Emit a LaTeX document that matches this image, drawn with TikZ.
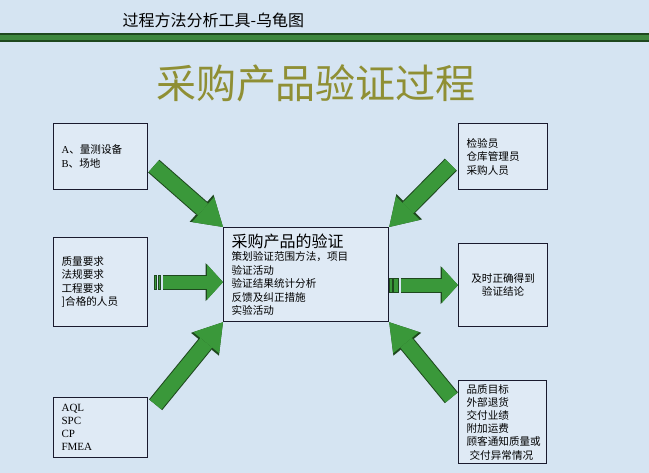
\documentclass[tikz,border=0pt]{standalone}
\usepackage{fontspec}
\setmainfont{Liberation Serif}
\newfontfamily\cjk{Noto Sans CJK SC}
\usepackage{tikz}
\usetikzlibrary{arrows.meta,calc}
\definecolor{paper}{RGB}{213,228,242}
\definecolor{boxfill}{RGB}{223,234,245}
\definecolor{boxline}{RGB}{26,26,46}
\definecolor{leaf}{RGB}{58,152,58}
\definecolor{leafdark}{RGB}{30,72,30}
\definecolor{band}{RGB}{62,135,62}
\definecolor{olive}{RGB}{143,143,52}
\tikzset{%
    infobox/.style={%
        draw=boxline, line width=1.2pt, fill=boxfill, anchor=north west,
        align=left, inner xsep=8pt, inner ysep=0pt,
        font=\cjk\fontsize{10.6}{13.5}\selectfont},
    fatarrow/.style={%
        preaction={draw=leafdark, line width=17pt,
            -{Triangle[width=36pt,length=28.5pt,line width=0pt]}},
        draw=leaf, line width=15pt, shorten <=1pt,
        -{Triangle[width=33.5pt,length=26.5pt,line width=0pt]}},
    flatarrow/.style={%
        preaction={draw=leafdark, line width=15pt,
            -{Triangle[width=38pt,length=17.5pt,line width=0pt]}},
        draw=leaf, line width=13pt, shorten <=1pt,
        -{Triangle[width=35.5pt,length=16pt,line width=0pt]}},
    stripe/.style={draw=leafdark, fill=leaf, line width=1pt}
}
\begin{document}
\begin{tikzpicture}[x=1pt,y=-1pt]
    \useasboundingbox (0,0) rectangle (649,473);
    \fill[paper] (0,0) rectangle (649,473);
    \node[anchor=west, font=\cjk\fontsize{16}{16}\selectfont] (header) at (119,20) {过程方法分析工具-乌龟图};
    \filldraw[draw=leafdark, fill=band, line width=2pt] (-2,34) rectangle (651,41);
    \node[text=olive, font=\cjk\fontsize{40}{40}\selectfont] (title) at (316,83) {采购产品验证过程};
    \node[infobox, text width=78pt, minimum height=66pt] (equip) at (53,123)
        {{\rmfamily A}、量测设备\\{\rmfamily B}、场地};
    \node[infobox, text width=78pt, minimum height=89pt] (quality) at (53,237)
        {质量要求\\法规要求\\工程要求\\]合格的人员};
    \node[infobox, text width=78pt, minimum height=60pt, font=\rmfamily\fontsize{11}{13}\selectfont] (tools) at (53,397)
        {AQL\\SPC\\CP\\FMEA};
    \node[infobox, text width=149pt, minimum height=94pt] (verify) at (223,227)
        {{\fontsize{16}{18}\selectfont 采购产品的验证}\\策划验证范围方法，项目\\验证活动\\验证结果统计分析\\反馈及纠正措施\\实验活动};
    \node[infobox, text width=73pt, minimum height=66pt] (staff) at (458,123)
        {检验员\\仓库管理员\\采购人员};
    \node[infobox, text width=73pt, minimum height=83pt, align=center] (result) at (458,243)
        {及时正确得到\\验证结论};
    \node[infobox, text width=72pt, minimum height=83pt, font=\cjk\fontsize{10.6}{13.2}\selectfont] (indicator) at (458,380)
        {品质目标\\外部退货\\交付业绩\\附加运费\\顾客通知质量或\\\hspace{3pt}交付异常情况};
    \coordinate (t1) at (153,165.5);
    \coordinate (t3) at (451.5,164);
    \coordinate (t5) at (155,405.5);
    \coordinate (t6) at (452,398.5);
    \draw[fatarrow] (t1) -- (verify.north west);
    \draw[fatarrow] (t3) -- (verify.north east);
    \draw[fatarrow] (t5) -- (verify.south west);
    \draw[fatarrow] (t6) -- (verify.south east);
    \draw[stripe] ($(quality.east)+(6,-7)$) rectangle ++(2,14);
    \draw[stripe] ($(quality.east)+(10,-7)$) rectangle ++(2.5,14);
    \draw[flatarrow] ($(quality.east)+(14,0)$) -- (quality.east -| verify.west);
    \draw[stripe] ($(result.west -| verify.east)+(0,-7)$) rectangle ++(3,14);
    \draw[stripe] ($(result.west -| verify.east)+(4.5,-7)$) rectangle ++(4.5,14);
    \draw[flatarrow] ($(result.west -| verify.east)+(10.5,0)$) -- (result.west);
\end{tikzpicture}
\end{document}
